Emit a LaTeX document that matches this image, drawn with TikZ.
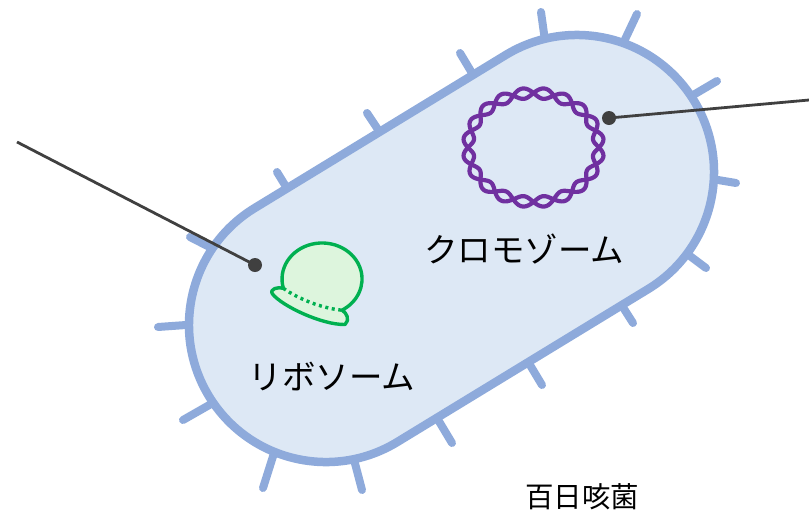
\documentclass[tikz,border=0pt]{standalone}
\usepackage{fontspec}
\newfontfamily\jp{Noto Sans CJK JP}
\usetikzlibrary{calc}
\definecolor{cellfill}{HTML}{DDE8F5}
\definecolor{wall}{HTML}{8EAADB}
\definecolor{ribofill}{HTML}{DDF5DD}
\definecolor{ribodraw}{HTML}{00B050}
\definecolor{dnacol}{HTML}{7030A0}
\definecolor{pointer}{HTML}{404040}
\begin{document}
\begin{tikzpicture}[x=1pt,y=-1pt,
  pilus/.style={draw=wall, line width=8pt, line cap=round},
  cellwall/.style={draw=wall, fill=cellfill, line width=8.5pt},
  dna/.style={draw=dnacol, line width=4.2pt, line join=round},
  ribo/.style={draw=ribodraw, line width=3.4pt, line join=round},
  dot/.style={circle, fill=pointer, inner sep=0pt, minimum size=14pt},
  leader/.style={draw=pointer, line width=2.8pt},
  label/.style={font=\jp\fontsize{33.5}{33.5}\selectfont, text=black, inner sep=0pt},
  title/.style={font=\jp\fontsize{28.5}{28.5}\selectfont, text=black, inner sep=0pt}]
\useasboundingbox (0,0) rectangle (809,515);

% pili around the cell wall (inner ends are hidden under the body)
\foreach \ox/\oy/\ix/\iy in {
  541/12/547/55, 637/14/620/50, 717/81/683/101, 736/183/700/177,
  706/268/674/244, 633/323/612/290, 542/385/521/350, 452/443/431/408,
  362/490/352/452, 263/488/275/450, 183/420/218/400, 158/327/200/324,
  190/237/225/255, 277/172/296/203, 367/113/387/143, 460/53/478/83}
  \draw[pilus] (\ox,\oy) -- (\ix,\iy);

% rod-shaped cell body
\begin{scope}[shift={(451.5,248.5)}, rotate=31.37]
  \draw[cellwall] (-147pt,-137pt) -- (147pt,-137pt)
    arc[start angle=-90, end angle=90, radius=137pt]
    -- (-147pt,137pt)
    arc[start angle=90, end angle=270, radius=137pt] -- cycle;
\end{scope}

% chromosome: two twisted strands on a closed ring
\draw[dna] plot[domain=0:360, samples=300, variable=\t]
  ({533.5+(65.5+5.2*sin(10*\t))*cos(\t)}, {147.5+(54.5+5.2*sin(10*\t))*sin(\t)});
\draw[dna] plot[domain=0:360, samples=300, variable=\t]
  ({533.5+(65.5-5.2*sin(10*\t))*cos(\t)}, {147.5+(54.5-5.2*sin(10*\t))*sin(\t)});

% ribosome: large and small subunits
\coordinate (rl) at (283.4,288.3);
\coordinate (rr) at (342,310.2);
\path[fill=ribofill] (rl) arc[start angle=195, end angle=-60, x radius=40pt, y radius=36pt]
  .. controls (347,313) and (350,320) .. (345,324.5)
  .. controls (322,325) and (282,306) .. (272.5,294)
  .. controls (269,289) and (278,286.5) .. (rl) -- cycle;
\draw[ribo] (rl) arc[start angle=195, end angle=-60, x radius=40pt, y radius=36pt]
  .. controls (347,313) and (350,320) .. (345,324.5)
  .. controls (322,325) and (282,306) .. (272.5,294)
  .. controls (269,289) and (278,286.5) .. (rl) -- cycle;
\draw[ribodraw, line width=3.4pt, dash pattern=on 3pt off 3.6pt]
  (rl) .. controls (297,298) and (320,308) .. (rr);

% pointers
\node[dot] (ribodot) at (255,265) {};
\node[dot] (chromdot) at (609,118) {};
\coordinate (ribotail) at (17,142);
\coordinate (chromtail) at (809,100);
\draw[leader] (ribotail) -- (ribodot.center);
\draw[leader] (chromdot.center) -- (chromtail);

% labels
\node[label] (chromlabel) at (524,249) {クロモゾーム};
\node[label] (ribolabel) at (332,376) {リボソーム};
\node[title] (name) at (582,497) {百日咳菌};
\end{tikzpicture}
\end{document}
